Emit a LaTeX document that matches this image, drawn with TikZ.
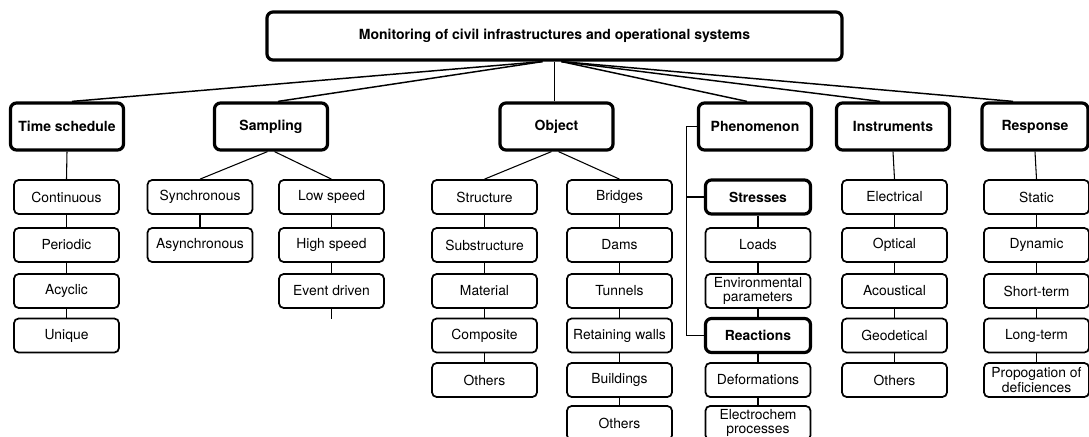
\documentclass[tikz,border=0pt]{standalone}
\usepackage{fontspec}
\setmainfont{TeX Gyre Heros}
\usetikzlibrary{calc}
\begin{document}
\begin{tikzpicture}[x=0.75pt,y=-0.75pt,
  box/.style={draw, rounded corners=3.5pt, line width=1.3pt, inner sep=0pt,
    minimum width=78.75pt, minimum height=25.5pt, align=center,
    font=\fontsize{10.4}{11}\selectfont},
  keybox/.style={box, line width=2.4pt, rounded corners=4.5pt,
    font=\fontsize{10.4}{11}\selectfont\bfseries},
  head/.style={draw, rounded corners=4.5pt, line width=2.4pt, inner sep=0pt,
    minimum width=84.75pt, minimum height=35.25pt,
    font=\fontsize{10.5}{12}\selectfont\bfseries},
  link/.style={line width=0.8pt},
  toplink/.style={line width=1.1pt}]

\useasboundingbox (0,0) rectangle (1089,436);
\fill[white] (0,0) rectangle (1089,436);
\clip (0,0) rectangle (1089,436);

% root
\node[head, minimum width=431.25pt, minimum height=36pt] (root) at (554.5,36)
  {Monitoring of civil infrastructures and operational systems};

% categories
\node[head] (ts)   at (67,126.5)    {Time schedule};
\node[head] (samp) at (271,126.5)   {Sampling};
\node[head] (obj)  at (556.5,126.5) {Object};
\node[head] (phen) at (755,126.5)   {Phenomenon};
\node[head] (inst) at (893,126.5)   {Instruments};
\node[head, minimum width=79.5pt] (resp) at (1035,126.5) {Response};

% time schedule
\node[box] (cont) at (66.5,197)   {Continuous};
\node[box] (peri) at (66.5,245)   {Periodic};
\node[box] (acyc) at (66.5,291)   {Acyclic};
\node[box] (uniq) at (66.5,335.5) {Unique};

% sampling
\node[box] (sync)  at (200,197) {Synchronous};
\node[box] (async) at (200,245) {Asynchronous};
\node[box] (lows)  at (331.5,197) {Low speed};
\node[box] (highs) at (331.5,245) {High speed};
\node[box] (event) at (331.5,291) {Event driven};

% object
\node[box] (struc) at (484.5,197)   {Structure};
\node[box] (subst) at (484.5,245)   {Substructure};
\node[box] (mater) at (484.5,291)   {Material};
\node[box] (compo) at (484.5,335.5) {Composite};
\node[box] (othA)  at (484.5,380)   {Others};
\node[box] (bridg) at (619.5,197)   {Bridges};
\node[box] (dams)  at (619.5,245)   {Dams};
\node[box] (tunn)  at (619.5,291)   {Tunnels};
\node[box] (retw)  at (619.5,335.5) {Retaining walls};
\node[box] (build) at (619.5,380)   {Buildings};
\node[box] (othB)  at (619.5,423)   {Others};

% phenomenon
\node[keybox] (stre) at (758,197)   {Stresses};
\node[box]    (load) at (758,245)   {Loads};
\node[box]    (envp) at (758,291)   {Environmental\\parameters};
\node[keybox] (reac) at (758,335.5) {Reactions};
\node[box]    (defo) at (758,380)   {Deformations};
\node[box]    (elch) at (758,423)   {Electrochem\\processes};

% instruments
\node[box] (elec) at (894.5,197)   {Electrical};
\node[box] (opti) at (894.5,245)   {Optical};
\node[box] (acou) at (894.5,291)   {Acoustical};
\node[box] (geod) at (894.5,335.5) {Geodetical};
\node[box] (othC) at (894.5,380)   {Others};

% response
\node[box] (stat) at (1036.5,197)   {Static};
\node[box] (dyna) at (1036.5,245)   {Dynamic};
\node[box] (shrt) at (1036.5,291)   {Short-term};
\node[box] (long) at (1036.5,335.5) {Long-term};
\node[box] (prop) at (1036.5,380)   {Propogation of\\deficiences};

% root to categories
\draw[toplink] ($(root.south)+(-12,0)$) -- ($(ts.north)+(5,0)$);
\draw[toplink] ($(root.south)+(-12,0)$) -- ($(samp.north)+(7,0)$);
\draw[link]    (root.south) -- (root.south |- obj.north);
\draw[toplink] ($(root.south)+(7,0)$) -- ($(phen.north)+(-8,0)$);
\draw[toplink] ($(root.south)+(7,0)$) -- ($(inst.north)+(-13,0)$);
\draw[toplink] ($(root.south)+(7,0)$) -- ($(resp.north)+(-22,0)$);

% categories to first items
\draw[link] (ts.south) -- (cont.north);
\draw[link] ($(samp.south)+(-3.5,0)$) -- (sync.north);
\draw[link] ($(samp.south)+(3.5,0)$) -- (lows.north);
\draw[link] ($(obj.south)+(-5,0)$) -- (struc.north);
\draw[link] ($(obj.south)+(2,0)$) -- (bridg.north);
\draw[link] (inst.south) -- (elec.north);
\draw[link] (resp.south) -- (stat.north);

% phenomenon bracket
\coordinate (bk) at ($(phen.west)+(-10,0)$);
\draw[link] (phen.west) -- (bk) |- (reac.west);
\draw[link] (stre.west) -- (bk |- stre.west);

% column chains
\foreach \a/\b in {cont/peri, peri/acyc, acyc/uniq,
                   sync/async, lows/highs, highs/event,
                   struc/subst, subst/mater, mater/compo, compo/othA,
                   bridg/dams, dams/tunn, tunn/retw, retw/build, build/othB,
                   stre/load, load/envp, envp/reac, reac/defo, defo/elch,
                   elec/opti, opti/acou, acou/geod, geod/othC,
                   stat/dyna, dyna/shrt, shrt/long, long/prop}
  \draw[link] (\a) -- (\b);

% open end below "Event driven"
\coordinate (evstub) at ($(event.south)+(0,10)$);
\draw[link] (event.south) -- (evstub);

\end{tikzpicture}
\end{document}
